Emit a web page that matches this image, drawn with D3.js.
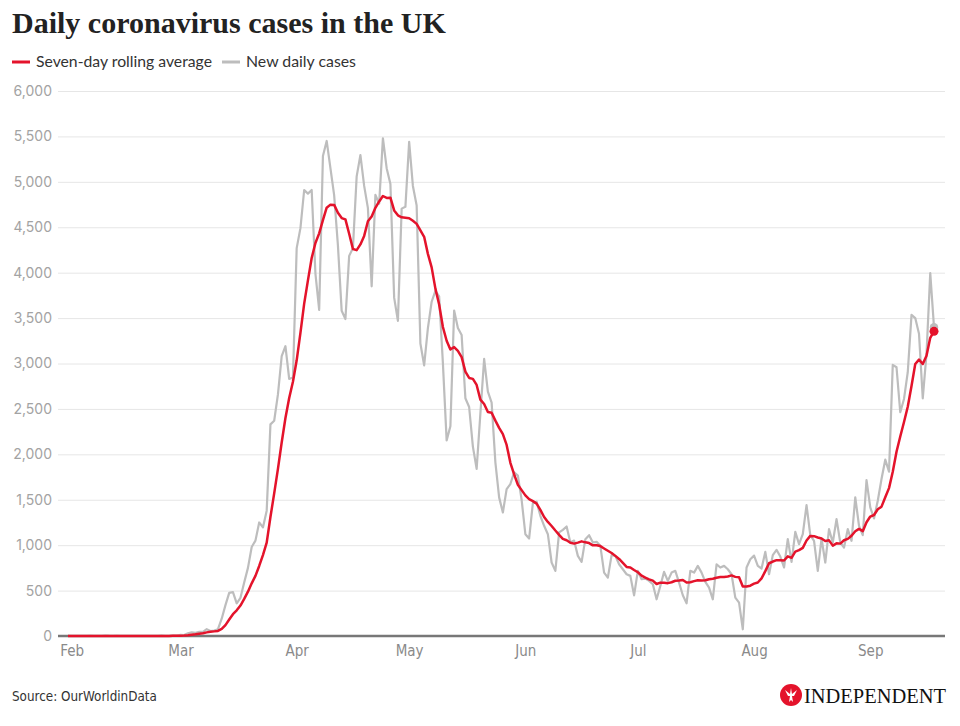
<!DOCTYPE html>
<html><head><meta charset="utf-8">
<script src="https://cdn.jsdelivr.net/npm/d3@7"></script>
<style>
body{margin:0;background:#fff;}
svg{display:block;}
</style></head><body>
<svg id="chart" width="960" height="726"></svg>
<script>
// ---- data ----
const startDate = "2020-01-31";
const dailyCases = [
 2,0,0,0,0,0,1,0,0,0,
 4,1,0,1,0,0,0,0,0,0,
 0,0,0,0,0,4,0,2,5,3,
 12,10,30,40,35,45,45,75,55,60,
 75,190,340,475,483,360,420,590,750,980,
 1050,1250,1195,1380,2330,2370,2660,3080,3190,2830,
 2845,4270,4490,4910,4870,4910,3990,3590,5285,5450,
 5150,4850,4300,3580,3490,4185,4270,5060,5295,4955,
 4710,3850,4857,4760,5480,5150,4975,3725,3470,4705,
 4725,5440,4955,4740,3220,2980,3390,3680,3800,3740,
 3004,2154,2309,3583,3390,3313,2618,2521,2085,1840,
 2450,3050,2690,2570,1912,1526,1360,1617,1673,1801,
 1765,1500,1121,1073,1463,1478,1323,1213,1121,809,
 717,1140,1169,1206,1029,1051,882,816,1066,1110,
 1029,1037,993,698,643,890,882,790,735,680,
 662,448,717,625,632,607,570,404,551,706,
 607,698,717,588,448,360,717,698,772,698,
 596,533,404,790,754,772,735,680,423,368,
 74,754,845,885,772,743,926,680,890,948,
 875,754,1066,816,1147,1011,1121,1441,1110,1048,
 717,1073,809,1176,1029,1287,1029,974,1176,1048,
 1526,1213,1110,1717,1415,1294,1489,1728,1941,1809,
 2985,2959,2463,2610,2904,3536,3500,3327,2617,3105,
 3995,3400
];
const rollingAverage = [
 0.3,0.3,0.3,0.3,0.3,0.3,0.4,0.1,0.1,0.1,
 0.7,0.9,0.9,0.9,0.9,0.9,0.9,0.3,0.1,0.1,
 0,0,0,0,0,0.6,0.6,0.9,1.6,2,
 3.7,5.1,8.9,14.6,19.3,25,31,40,46,51,
 56,78,120,181,240,283,335,408,488,580,
 662,771,891,1028,1310,1570,1840,2130,2400,2620,
 2800,3035,3338,3659,3915,4161,4326,4433,4578,4715,
 4749,4746,4659,4601,4586,4429,4261,4248,4311,4405,
 4566,4618,4714,4784,4844,4823,4826,4685,4631,4609,
 4604,4599,4571,4537,4465,4395,4207,4058,3824,3650,
 3402,3250,3154,3181,3140,3070,2910,2841,2831,2764,
 2602,2554,2465,2458,2371,2291,2223,2104,1907,1780,
 1665,1606,1548,1507,1485,1457,1389,1310,1256,1211,
 1161,1114,1070,1054,1027,1017,1028,1042,1031,1023,
 998,999,990,964,939,914,882,848,804,760,
 755,727,702,665,643,624,609,572,587,585,
 582,592,608,610,616,589,591,604,614,612,
 613,625,631,642,650,650,655,667,651,646,
 544,544,554,576,589,634,714,801,820,835,
 833,831,877,861,928,945,970,1051,1102,1099,
 1085,1074,1046,1053,995,1020,1017,1054,1069,1103,
 1153,1179,1154,1252,1315,1332,1395,1424,1528,1628,
 1809,2029,2196,2356,2524,2752,2994,3043,2994,3086,
 3283,3354
];
const yTickValues = [0,500,1000,1500,2000,2500,3000,3500,4000,4500,5000,5500,6000];
const monthTickDates = ["2020-02-01","2020-03-01","2020-04-01","2020-05-01","2020-06-01","2020-07-01","2020-08-01","2020-09-01"];
const monthLabels = ["Feb","Mar","Apr","May","Jun","Jul","Aug","Sep"];
const seriesNames = ["Seven-day rolling average","New daily cases"];

// ---- drawing ----
const RED = "#e4132b", GREY = "#bdbdbd";
const svg = d3.select("#chart");
const parse = d3.timeParse("%Y-%m-%d");
const t0 = parse(startDate);
const dates = dailyCases.map((_, i) => d3.timeDay.offset(t0, i));

const x = d3.scaleTime().domain([dates[0], dates[dates.length - 1]]).range([68, 934]);
const y = d3.scaleLinear().domain([0, 6000]).range([636, 91]);

function fit(sel, w) {
  const n = sel.node();
  const cur = n.getComputedTextLength();
  const fs = parseFloat(sel.attr("font-size"));
  sel.attr("font-size", (fs * w / cur).toFixed(2));
}

// title
const title = svg.append("text").attr("x", 12).attr("y", 33)
  .attr("font-family", "'Liberation Serif', 'DejaVu Serif', serif")
  .attr("font-weight", "bold").attr("font-size", 30).attr("fill", "#222")
  .text("Daily coronavirus cases in the UK");
fit(title, 434);

// legend
const leg = svg.append("g");
leg.append("line").attr("x1", 12).attr("x2", 30).attr("y1", 62).attr("y2", 62)
  .attr("stroke", RED).attr("stroke-width", 3);
const l1 = leg.append("text").attr("x", 36).attr("y", 67)
  .attr("font-family", "Lato, 'Open Sans', sans-serif").attr("font-size", 15).attr("fill", "#333")
  .text(seriesNames[0]);
fit(l1, 176);
leg.append("line").attr("x1", 222).attr("x2", 240).attr("y1", 62).attr("y2", 62)
  .attr("stroke", GREY).attr("stroke-width", 3);
const l2 = leg.append("text").attr("x", 246).attr("y", 67)
  .attr("font-family", "Lato, 'Open Sans', sans-serif").attr("font-size", 15).attr("fill", "#333")
  .text(seriesNames[1]);
fit(l2, 110);

// y axis + grid
const yAxis = svg.append("g").attr("transform", "translate(58,0)")
  .call(d3.axisLeft(y).tickValues(yTickValues).tickSize(-887).tickPadding(6).tickFormat(d3.format(",")));
yAxis.select(".domain").remove();
yAxis.selectAll(".tick line").attr("stroke", "#e6e6e6").attr("stroke-width", 1);
yAxis.selectAll(".tick text").attr("font-family", "Inter, 'Open Sans', sans-serif")
  .attr("font-size", 14).attr("fill", "#a3a3a3");

// x axis
const xAxis = svg.append("g").attr("transform", "translate(0,636)")
  .call(d3.axisBottom(x).tickValues(monthTickDates.map(parse)).tickSize(0).tickPadding(9)
    .tickFormat((d, i) => monthLabels[i]));
xAxis.select(".domain").remove();
xAxis.selectAll(".tick text").attr("font-family", "'Liberation Sans Narrow', 'DejaVu Sans Condensed', Roboto, sans-serif")
  .attr("font-size", 15).attr("fill", "#8a8a8a");
svg.append("line").attr("x1", 58).attr("x2", 945).attr("y1", y(0)).attr("y2", y(0))
  .attr("stroke", "#777").attr("stroke-width", 2.5);

// lines
const line = d3.line().x((d, i) => x(dates[i])).y(d => y(d));
svg.append("path").datum(dailyCases).attr("d", line)
  .attr("fill", "none").attr("stroke", GREY).attr("stroke-width", 2.2).attr("stroke-linejoin", "round");
svg.append("path").datum(rollingAverage).attr("d", line)
  .attr("fill", "none").attr("stroke", RED).attr("stroke-width", 2.5).attr("stroke-linejoin", "round");
const last = dates.length - 1;
svg.append("circle").attr("cx", x(dates[last])).attr("cy", y(dailyCases[last])).attr("r", 4.2).attr("fill", GREY);
svg.append("circle").attr("cx", x(dates[last])).attr("cy", y(rollingAverage[last])).attr("r", 4.5).attr("fill", RED);

// footer
const src = svg.append("text").attr("x", 12).attr("y", 701)
  .attr("font-family", "'Liberation Sans Narrow', 'DejaVu Sans Condensed', Roboto, sans-serif")
  .attr("font-size", 14).attr("fill", "#333").text("Source: OurWorldinData");
fit(src, 145);

const logo = svg.append("g").attr("transform", "translate(791,695)");
logo.append("circle").attr("r", 11).attr("fill", RED);
logo.append("path").attr("fill", "#fff")
  .attr("d", "M-6,-5 L-1,-1 L0,-7 L1,-1 L6,-5 L3,1 L1,1 L2,7 L0,5 L-2,7 L-1,1 L-3,1 Z");
const ind = svg.append("text").attr("x", 804).attr("y", 703)
  .attr("font-family", "'Liberation Serif', 'DejaVu Serif', serif")
  .attr("font-size", 22).attr("fill", "#111")
  .text("INDEPENDENT");
fit(ind, 142);
</script>
</body></html>
